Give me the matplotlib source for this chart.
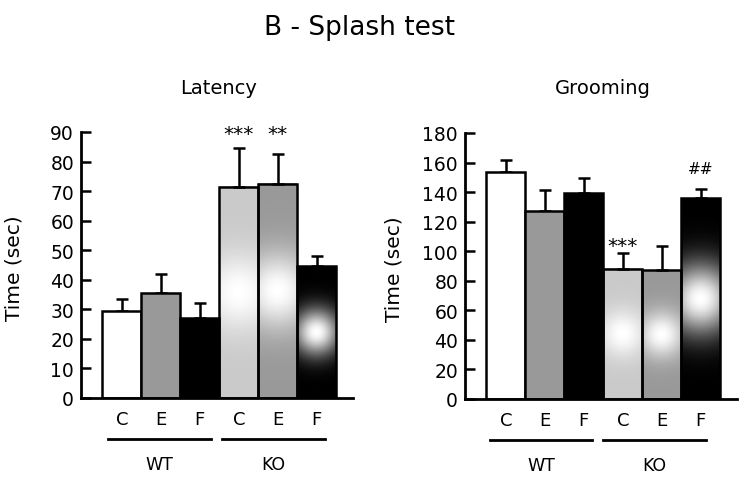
import numpy as np
import matplotlib.pyplot as plt

plt.rcParams['font.family'] = ['DejaVu Sans']

groups = ['C', 'E', 'F', 'C', 'E', 'F']
genotypes = ['WT', 'KO']

latency_mean = [29.3, 35.5, 27.0, 71.5, 72.5, 44.6]
latency_sem = [4.3, 6.3, 5.0, 13.0, 10.0, 3.4]
latency_marks = ['', '', '', '***', '**', '']
latency_mark_y = [0, 0, 0, 91.5, 91.5, 0]

grooming_mean = [153.8, 127.4, 139.6, 88.0, 87.0, 136.0]
grooming_sem = [8.0, 14.0, 10.0, 10.5, 16.5, 6.0]
grooming_marks = ['', '', '', '***', '', '##']
grooming_mark_y = [0, 0, 0, 108, 0, 157]

# base grey of each bar; KO bars get a radial white glow on top
base_grey = [1.0, 0.6, 0.0, 0.79, 0.6, 0.0]
glow = [False, False, False, True, True, True]

fig = plt.figure(figsize=(7.39, 4.85), dpi=100)
W, H = 739, 485


def radial_bar(ax, x, h, base):
    fig.canvas.draw()
    (x0p, y0p), (x1p, y1p) = ax.transData.transform([(x - 0.5, 0), (x + 0.5, h)])
    nx, ny = 80, 240
    px = np.linspace(x0p, x1p, nx)
    py = np.linspace(y0p, y1p, ny)
    gx, gy = np.meshgrid(px, py)
    cx, cy = (x0p + x1p) / 2, (y0p + y1p) / 2
    r = np.hypot(gx - cx, gy - cy)
    R = 0.34 * (y1p - y0p)
    t = np.exp(-(r / (0.52 * R)) ** 2)
    img = base + (1 - base) * t
    ax.imshow(img, extent=(x - 0.5, x + 0.5, 0, h), origin='lower',
              cmap='gray', vmin=0, vmax=1, aspect='auto',
              interpolation='bilinear', zorder=1)


def panel(rect, means, sems, marks, mark_y, ymax, ystep, title, title_x,
          label_x, wt_span, ko_span):
    ax = fig.add_axes(rect)
    x = np.arange(len(means))
    ax.set_xlim(-1.05, 5.93)
    ax.set_ylim(0, ymax)
    for i in range(len(means)):
        if glow[i]:
            radial_bar(ax, x[i], means[i], base_grey[i])
            fc = 'none'
        else:
            fc = str(base_grey[i])
        ax.bar(x[i], means[i], width=1.0, facecolor=fc, edgecolor='black',
               linewidth=1.8, zorder=2)
    ax.errorbar(x, means, yerr=[np.zeros(len(means)), sems], fmt='none',
                ecolor='black', elinewidth=1.8, capsize=4, capthick=1.8,
                zorder=1.5)
    for i, m in enumerate(marks):
        if not m:
            continue
        if '*' in m:
            size, drop = 14.5, 8.0
        else:
            size, drop = 11, 4.0
        ax.annotate(m, (x[i], mark_y[i]), xytext=(0, -drop),
                    textcoords='offset points', ha='center', va='baseline',
                    fontsize=size, annotation_clip=False)

    ax.set_yticks(np.arange(0, ymax + 1, ystep))
    ax.tick_params(axis='y', direction='in', length=7, width=1.8,
                   labelsize=13.5, pad=5)
    ax.set_xticks(x)
    ax.set_xticklabels(groups)
    ax.tick_params(axis='x', length=0, labelsize=13, pad=9)
    for s in ('top', 'right'):
        ax.spines[s].set_visible(False)
    for s in ('left', 'bottom'):
        ax.spines[s].set_linewidth(2)
    ax.set_ylabel('Time (sec)', fontsize=14.5)
    ax.yaxis.set_label_coords(label_x, 0.49)

    tr = ax.get_xaxis_transform()
    for span, name in zip((wt_span, ko_span), genotypes):
        ax.plot(span, [-0.155, -0.155], color='black', lw=2,
                transform=tr, clip_on=False)
        ax.text(sum(span) / 2, -0.25, name, transform=tr, ha='center',
                va='center', fontsize=12.5)
    fig.text(title_x / W, 1 - 88 / H, title, ha='center', va='center',
             fontsize=14)
    return ax


panel([81 / W, 86 / H, 272 / W, 266 / H], latency_mean, latency_sem,
      latency_marks, latency_mark_y, 90, 10, 'Latency', 219, -0.21,
      (-0.36, 2.28), (2.56, 5.2))
panel([465 / W, 85 / H, 272 / W, 266 / H], grooming_mean, grooming_sem,
      grooming_marks, grooming_mark_y, 180, 20, 'Grooming', 603, -0.225,
      (-0.42, 2.22), (2.5, 5.14))

fig.text(359 / W, 1 - 28 / H, 'B - Splash test', ha='center', va='center',
         fontsize=19)

fig.savefig('out.png', dpi=100)
